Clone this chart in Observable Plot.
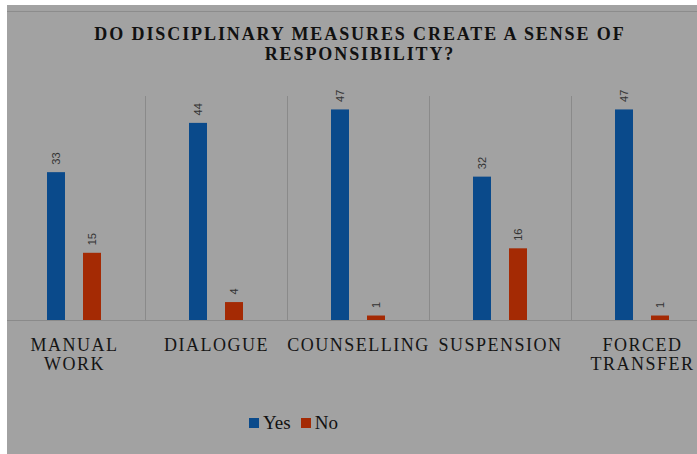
<!DOCTYPE html>
<html>
<head>
<meta charset="utf-8">
<script src="https://cdn.jsdelivr.net/npm/d3@7"></script>
<script src="https://cdn.jsdelivr.net/npm/@observablehq/plot@0.6"></script>
<style>
  html, body { margin: 0; padding: 0; background: #ffffff; }
  #wrap { position: absolute; left: 7px; top: 5px; width: 690px; height: 449px; background: #a2a2a2; overflow: hidden; }
  #topline { position: absolute; left: 0; top: 6px; width: 100%; height: 1px; background: #8c8c8c; }
  #title { position: absolute; left: 0; top: 19px; width: 706px; text-align: center;
    font-family: "Liberation Serif", serif; font-weight: bold; font-size: 18px; line-height: 20px;
    letter-spacing: 1.9px; color: #111; }
  #chart { position: absolute; left: 0; top: 75px; }
  #legend { position: absolute; left: 242px; top: 407px; display: flex; align-items: center;
    font-family: "Liberation Serif", serif; font-size: 19px; color: #111; }
  #legend .item { display: flex; align-items: center; margin-right: 10px; }
  #legend .sw { width: 10px; height: 10px; margin-right: 4px; }
  g[aria-label="fx-axis tick label"] text { letter-spacing: 1.5px; }
</style>
</head>
<body>
<div id="wrap">
  <div id="topline"></div>
  <div id="title"></div>
  <div id="chart"></div>
  <div id="legend"></div>
</div>
<script>
const titleLines = ["DO DISCIPLINARY MEASURES CREATE A SENSE OF", "RESPONSIBILITY?"];
const categories = ["MANUAL WORK", "DIALOGUE", "COUNSELLING", "SUSPENSION", "FORCED TRANSFER"];
const series = ["Yes", "No"];
const yesValues = [33, 44, 47, 32, 47];
const noValues = [15, 4, 1, 16, 1];
const colors = ["#0a4a8b", "#a42a04"];

const data = categories.flatMap((c, i) => [
  {category: c, series: "Yes", value: yesValues[i]},
  {category: c, series: "No", value: noValues[i]}
]);

document.getElementById("title").innerHTML = titleLines.join("<br>");

const chart = Plot.plot({
  width: 690,
  height: 300,
  marginTop: 16,
  marginBottom: 60,
  marginLeft: 0,
  marginRight: 0,
  style: {background: "transparent", overflow: "hidden"},
  fx: {domain: categories, range: [-4.7, 705.8], padding: 0, label: null},
  x: {domain: series, paddingInner: 0.49, paddingOuter: 1.185, axis: null},
  y: {domain: [0, 50], axis: null},
  color: {domain: series, range: colors},
  marks: [
    Plot.frame({anchor: "left", stroke: "#8a8a8a"}),
    Plot.ruleY([0], {stroke: "#8a8a8a"}),
    Plot.barY(data, {fx: "category", x: "series", y: "value", fill: "series"}),
    Plot.text(data, {fx: "category", x: "series", y: "value", text: d => String(d.value),
      rotate: -90, textAnchor: "start", dy: -8, fontSize: 11, fontFamily: "Liberation Sans", fill: "#333"}),
    Plot.axisFx({anchor: "bottom", tickSize: 0, tickPadding: 16, fontSize: 18,
      fontFamily: "Liberation Serif", fill: "#151515", lineHeight: 1.1, label: null,
      tickFormat: d => d.split(" ").join("\n")})
  ]
});
document.getElementById("chart").appendChild(chart);

const legend = document.getElementById("legend");
series.forEach((s, i) => {
  const item = document.createElement("div");
  item.className = "item";
  const sw = document.createElement("div");
  sw.className = "sw";
  sw.style.background = colors[i];
  const t = document.createElement("span");
  t.textContent = s;
  item.appendChild(sw);
  item.appendChild(t);
  legend.appendChild(item);
});
</script>
</body>
</html>
